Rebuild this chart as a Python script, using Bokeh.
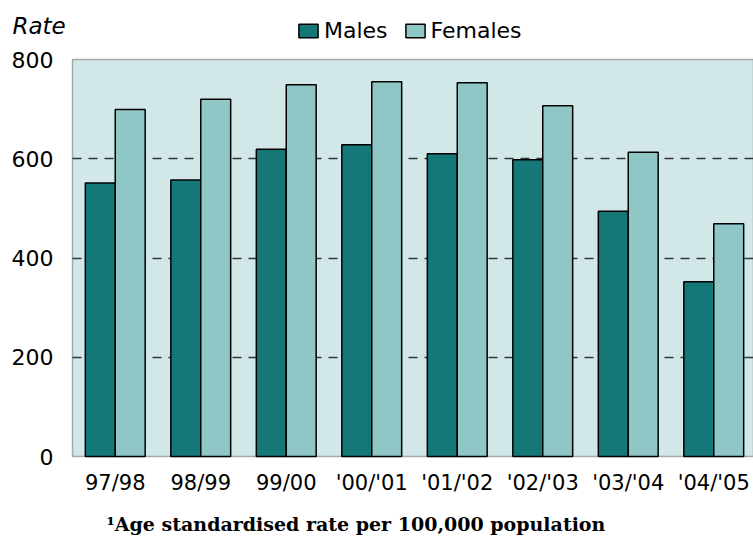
from bokeh.plotting import figure
from bokeh.models import (ColumnDataSource, Range1d, FixedTicker, Legend, LegendItem,
                          Label, BoxAnnotation)
from bokeh.embed import file_html
from bokeh.resources import INLINE

years = ["97/98", "98/99", "99/00", "'00/'01", "'01/'02", "'02/'03", "'03/'04", "'04/'05"]
males = [551, 557, 619, 628, 610, 598, 494, 352]
females = [699, 720, 749, 755, 753, 707, 613, 469]
y_ticks = [0, 200, 400, 600, 800]

MALE_C = "#147878"
FEMALE_C = "#8FC6C6"
BG = "#D2E8E8"

W, H = 753, 536
BOX_TOP, BOX_BOTTOM = 59, 456   # pixel rows of the plotting box inside the canvas
LEFT_PAD = 72                   # white space left of the plotting box
CAT_PX = 85.5                   # pixels per category

idx = list(range(len(years)))
src = ColumnDataSource(dict(
    xm=[i + 0.5 - 0.175 for i in idx],
    xf=[i + 0.5 + 0.175 for i in idx],
    males=males, females=females))

x0 = -LEFT_PAD / CAT_PX
x1 = x0 + W / CAT_PX
upp = y_ticks[-1] / (BOX_BOTTOM - BOX_TOP)      # data units per pixel
y0 = -(H - BOX_BOTTOM) * upp
y1 = y_ticks[-1] + BOX_TOP * upp

p = figure(width=W, height=H, output_backend="svg", toolbar_location=None,
           x_range=Range1d(x0, x1), y_range=Range1d(y0, y1),
           min_border=0)
p.background_fill_color = "white"
p.border_fill_color = "white"
p.outline_line_color = None

box = BoxAnnotation(left=0, bottom=0, top=y_ticks[-1], fill_color=BG, fill_alpha=1,
                    line_color="black", line_width=1.5, level="image")
p.add_layout(box)

rm = p.vbar(x="xm", top="males", width=0.35, source=src, fill_color=MALE_C,
            line_color="black", line_width=1.5)
rf = p.vbar(x="xf", top="females", width=0.35, source=src, fill_color=FEMALE_C,
            line_color="black", line_width=1.5)

# axes drawn at the edges of the plotting box
p.xaxis.ticker = FixedTicker(ticks=[i + 0.5 for i in idx])
p.xaxis.major_label_overrides = {i + 0.5: years[i] for i in idx}
p.xaxis.fixed_location = 0
p.yaxis.ticker = FixedTicker(ticks=y_ticks)
p.yaxis.fixed_location = 0
for ax in (p.xaxis[0], p.yaxis[0]):
    ax.axis_line_color = None
    ax.major_tick_line_color = None
    ax.minor_tick_line_color = None
    ax.major_tick_out = 0
    ax.major_tick_in = 0
    ax.minor_tick_out = 0
    ax.minor_tick_in = 0
    ax.major_label_text_font = "DejaVu Sans"
    ax.major_label_text_color = "black"
p.xaxis.major_label_text_font_size = "21px"
p.yaxis.major_label_text_font_size = "22px"
p.xaxis.major_label_standoff = 14
p.yaxis.major_label_standoff = 19

p.xgrid.grid_line_color = None
grid = p.ygrid[0]
grid.ticker = FixedTicker(ticks=y_ticks[1:-1])
if "cross_bounds" in grid.properties():
    grid.cross_bounds = (0, len(years))
    grid.grid_line_color = "#333333"
    grid.grid_line_dash = "9 7"
    grid.grid_line_width = 1.5
    grid.level = "underlay"
else:
    grid.grid_line_color = None
    gy = y_ticks[1:-1]
    p.segment(x0=[0] * len(gy), x1=[len(years)] * len(gy), y0=gy, y1=gy,
              line_color="#333333", line_dash="9 7", line_width=1.5, level="underlay")

legend = Legend(items=[LegendItem(label="Males", renderers=[rm]),
                       LegendItem(label="Females", renderers=[rf])],
                orientation="horizontal", location=(296, H - 42.5),
                glyph_width=24, glyph_height=17, label_standoff=4, spacing=15,
                padding=0, margin=0, border_line_color=None,
                background_fill_alpha=0, label_text_color="black",
                label_text_font="DejaVu Sans", label_text_font_size="22px")
p.add_layout(legend, "center")

rate = Label(x=12, y=H - 25, x_units="screen", y_units="screen", text="Rate",
             text_font="DejaVu Sans", text_font_style="italic",
             text_font_size="23px", text_baseline="alphabetic", text_color="black")
p.add_layout(rate)

note = Label(x=106, y=H - 523, x_units="screen", y_units="screen",
             text="\u00b9Age standardised rate per 100,000 population",
             text_font="DejaVu Serif", text_font_style="bold",
             text_font_size="19px", text_baseline="alphabetic", text_color="black")
p.add_layout(note)

open("out.html", "w").write(file_html(p, INLINE))
